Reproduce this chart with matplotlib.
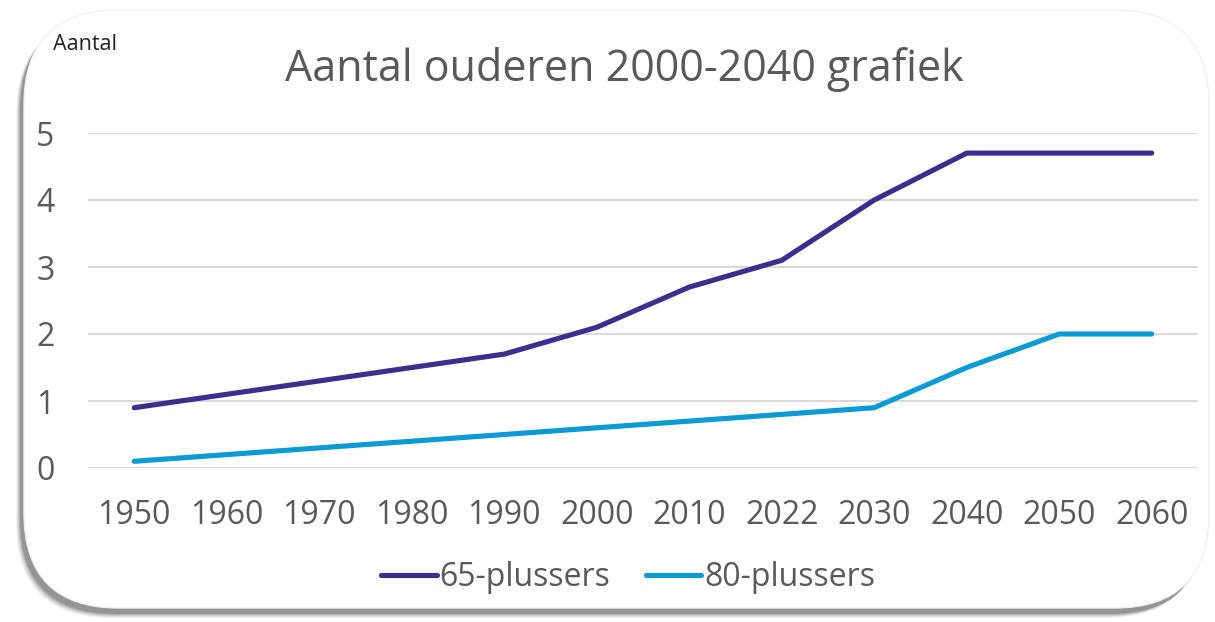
import matplotlib
matplotlib.use("Agg")
import matplotlib.pyplot as plt
from matplotlib.patches import FancyBboxPatch

years = ["1950", "1960", "1970", "1980", "1990", "2000", "2010", "2022", "2030", "2040", "2050", "2060"]
plus65 = [0.9, 1.1, 1.3, 1.5, 1.7, 2.1, 2.7, 3.1, 4.0, 4.7, 4.7, 4.7]
plus80 = [0.1, 0.2, 0.3, 0.4, 0.5, 0.6, 0.7, 0.8, 0.9, 1.5, 2.0, 2.0]
y_ticks = [0, 1, 2, 3, 4, 5]

W, H = 1215, 622
plt.rcParams["font.family"] = ["Open Sans", "DejaVu Sans"]
fig = plt.figure(figsize=(W / 100, H / 100), dpi=100)

# background frame in pixel coordinates
bg = fig.add_axes([0, 0, 1, 1])
bg.set_xlim(0, W)
bg.set_ylim(0, H)
bg.axis("off")
R = 95
for i, a in enumerate([0.05, 0.07, 0.09, 0.12, 0.16]):
    off = 6 - i
    bg.add_patch(FancyBboxPatch((22 + R - off, 10 + R - off), W - 30 - 2 * R, H - 24 - 2 * R,
                                boxstyle="round,pad=%d" % R, fc="black", ec="none", alpha=a, zorder=1))
bg.add_patch(FancyBboxPatch((24 + R, 14 + R), W - 30 - 2 * R, H - 24 - 2 * R,
                            boxstyle="round,pad=%d" % R, fc="white", ec="#f0f0f0", lw=1, zorder=2))

ax = fig.add_axes([88 / W, 1 - 468 / H, 1110 / W, 335 / H])
ax.patch.set_alpha(0)
x = range(len(years))
ax.plot(x, plus65, color="#3b2e8c", lw=3.7, solid_capstyle="round", solid_joinstyle="round", label="65-plussers")
ax.plot(x, plus80, color="#0a9ad6", lw=3.7, solid_capstyle="round", solid_joinstyle="round", label="80-plussers")
ax.set_xlim(-0.5, len(years) - 0.5)
ax.set_ylim(0, 5)
ax.set_yticks(y_ticks)
ax.set_xticks(list(x))
ax.set_xticklabels(years)
ax.grid(axis="y", color="#d9d9d9", lw=1.5)
ax.set_axisbelow(True)
for s in ax.spines.values():
    s.set_visible(False)
ax.tick_params(length=0, labelsize=23, labelcolor="#595959")
ax.tick_params(axis="y", pad=24)
ax.tick_params(axis="x", pad=22)

fig.text(624 / W, 1 - 70 / H, "Aantal ouderen 2000-2040 grafiek", ha="center", va="center",
         fontsize=31, color="#595959")
fig.text(53 / W, 1 - 44 / H, "Aantal", ha="left", va="center", fontsize=15.5, color="#222222")

fig.legend(loc="center", bbox_to_anchor=(628 / W, 1 - 578 / H), ncol=2, frameon=False,
           fontsize=23, labelcolor="#595959", handlelength=1.75, columnspacing=1.1, handletextpad=0.08)

fig.savefig("out.png", dpi=100)
